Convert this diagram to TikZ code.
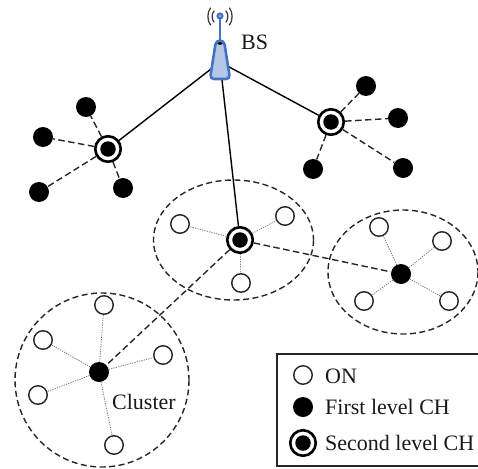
\documentclass[tikz,border=0pt]{standalone}
\usepackage{fontspec}
\setmainfont{Liberation Serif}
\definecolor{antblue}{RGB}{68,114,196}
\definecolor{antfill}{RGB}{180,199,231}
\tikzset{
  x=1pt,y=-1pt,
  onnode/.style={circle,draw=black!85,line width=1.4pt,fill=white,minimum size=18.5pt,inner sep=0pt},
  firstch/.style={circle,fill=black,minimum size=20pt,inner sep=0pt},
  secondch/.style={circle,fill=black,minimum size=15.5pt,inner sep=0pt},
  ring/.style={circle,draw=black,line width=2.6pt,fill=white,minimum size=25.5pt,inner sep=0pt},
  link/.style={line width=1.4pt,black},
  dlink/.style={line width=1.4pt,black!85,dash pattern=on 6.5pt off 3.5pt},
  olink/.style={line width=.8pt,black!55,dash pattern=on 1.2pt off 1.2pt},
  boundary/.style={line width=1.4pt,black!85,dash pattern=on 6pt off 3.5pt},
  lbl/.style={font=\fontsize{22}{24}\selectfont,text=black!90,inner sep=0pt},
  wave/.style={line width=1.2pt,black!80,line cap=round},
  antbody/.style={draw=antblue,fill=antfill,line width=2.6pt,rounded corners=4pt},
}
\newcommand{\secondlevel}[2]{%
  \node[ring] (#1) at (#2) {};
  \node[secondch] (#1c) at (#2) {};
}
\begin{document}
\begin{tikzpicture}
\useasboundingbox (0,0) rectangle (478,468);
% cluster boundaries
\draw[boundary] (233.5,240) ellipse [x radius=80,y radius=60];
\draw[boundary] (403,272) ellipse [x radius=75,y radius=62];
\draw[boundary] (102,380) circle [radius=87];
% nodes
\coordinate (bs) at (220,62);
\secondlevel{a}{108,149}
\secondlevel{b}{331,122}
\secondlevel{c}{240,240}
\node[firstch] (d) at (401,274) {};
\node[firstch] (e) at (99,372) {};
\foreach \n/\p in {a1/{86,107},a2/{43,137},a3/{39,192},a4/{123,188},
                   b1/{366,86},b2/{398,118},b3/{403,168},b4/{313,169}}
  \node[firstch] (\n) at (\p) {};
\foreach \n/\p in {c1/{180,224},c2/{285,216},c3/{241,283},
                   d1/{379,227},d2/{442,241},d3/{449,301},d4/{364,301},
                   e1/{104,305},e2/{43,340},e3/{163,355},e4/{38,395},e5/{114,445}}
  \node[onnode] (\n) at (\p) {};
% connectors
\draw[link] (bs) -- (a);
\draw[link] (bs) -- (b);
\draw[link] (bs) -- (c);
\foreach \n in {a1,a2,a3,a4} \draw[dlink] (a) -- (\n);
\foreach \n in {b1,b2,b3,b4} \draw[dlink] (b) -- (\n);
\draw[dlink] (c) -- (d);
\draw[dlink] (c) -- (e);
\foreach \n in {c1,c2,c3} \draw[olink] (c) -- (\n);
\foreach \n in {d1,d2,d3,d4} \draw[olink] (d) -- (\n);
\foreach \n in {e1,e2,e3,e4,e5} \draw[olink] (e) -- (\n);
% antenna
\coordinate (bstop) at (220,16);
\draw[line width=2.4pt,antblue] (bstop) -- (220,40);
\path[antbody] (216,40.5) -- (224,40.5) -- (230,79) -- (210,79) -- cycle;
\fill[black] (220,43.5) ellipse [x radius=2.6,y radius=1.3];
\fill[antblue] (bstop) circle [radius=3.6];
\fill[antfill] (bstop) circle [radius=1.2];
\draw[wave] (214,11) .. controls (211.5,14) and (211.5,19) .. (214,22);
\draw[wave] (210.5,8) .. controls (207,12) and (207,21) .. (210.5,25);
\draw[wave] (226,11) .. controls (228.5,14) and (228.5,19) .. (226,22);
\draw[wave] (229.5,8) .. controls (233,12) and (233,21) .. (229.5,25);
\node[lbl,anchor=west] (bslabel) at (241,42) {BS};
\node[lbl,anchor=west] (cl) at (112,402) {Cluster};
% legend
\draw[line width=1.4pt,black!85] (484,354) -- (277,354) -- (277,466) -- (484,466);
\node[onnode] (l1) at (303,375) {};
\node[firstch] (l2) at (303,407) {};
\secondlevel{l3}{303,443}
\node[lbl,anchor=west] (t1) at (325,376) {ON};
\node[lbl,anchor=west] (t2) at (325,407) {First level CH};
\node[lbl,anchor=west] (t3) at (325,443) {Second level CH};
\end{tikzpicture}
\end{document}
